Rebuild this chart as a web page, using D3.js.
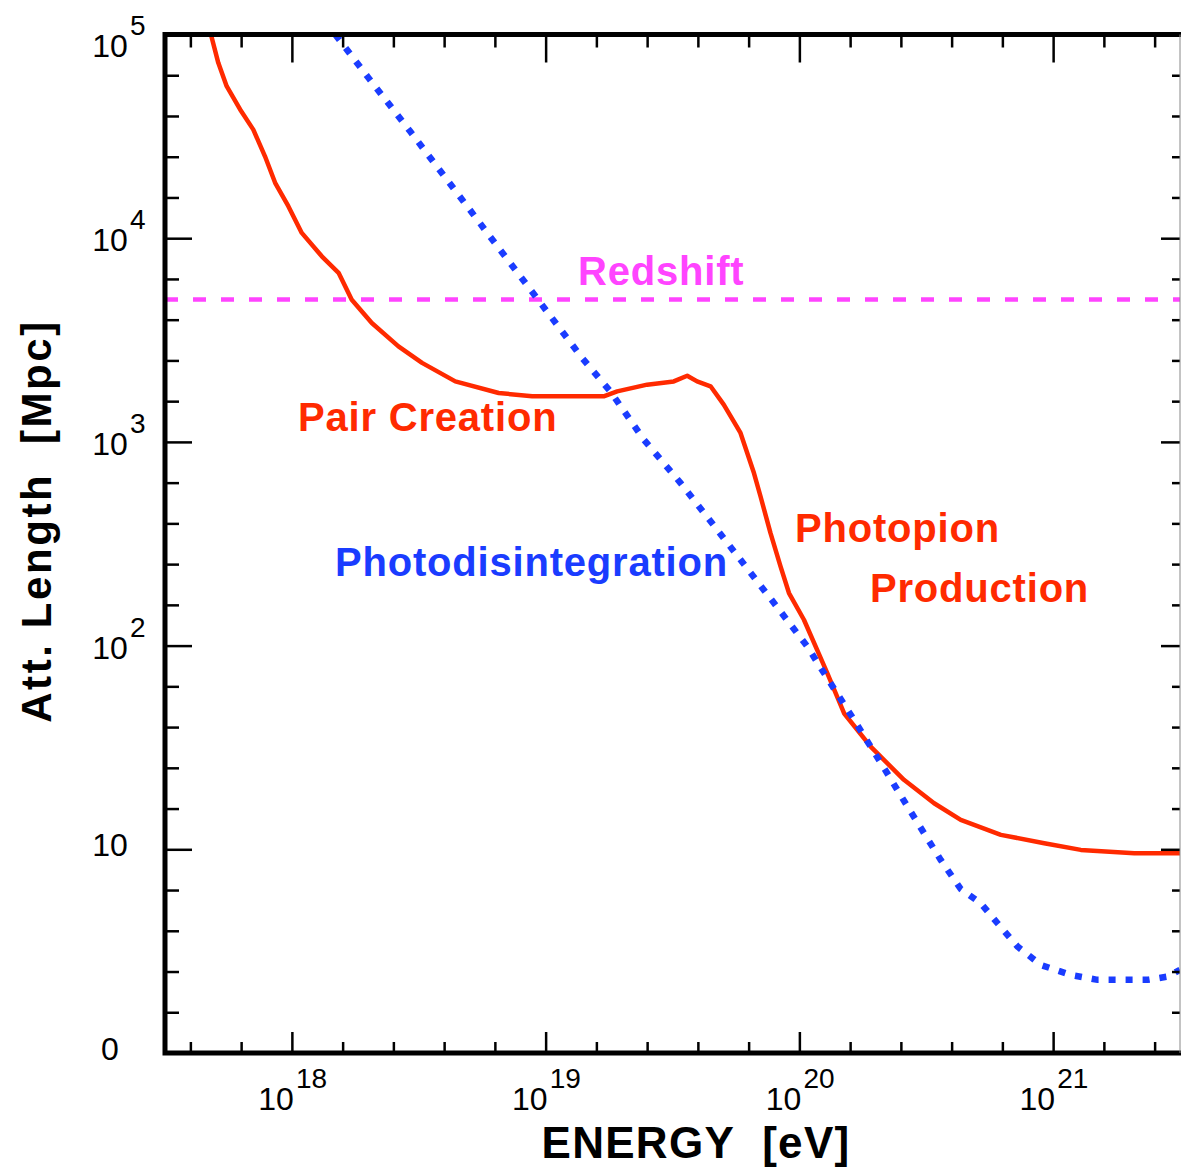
<!DOCTYPE html>
<html>
<head>
<meta charset="utf-8">
<script src="https://cdn.jsdelivr.net/npm/d3@7"></script>
<style>
  body { margin: 0; background: #fff; }
  svg { display: block; font-family: "Liberation Sans", Arial, sans-serif; }
</style>
</head>
<body>
<svg id="chart" width="1181" height="1168"></svg>
<script>
// energies as log10(E / eV), lengths as log10(L / Mpc)
var pairLogE = [17.681, 17.710, 17.743, 17.796, 17.848, 17.894, 17.934, 17.986, 18.039, 18.118,
                18.184, 18.236, 18.315, 18.420, 18.513, 18.644, 18.815, 18.947, 19.229, 19.282,
                19.400, 19.505, 19.558, 19.597, 19.650, 19.702, 19.768, 19.821, 19.847, 19.886,
                19.926, 19.959, 20.018, 20.110, 20.176, 20.281, 20.412, 20.531, 20.636, 20.794,
                20.965, 21.109, 21.320, 21.500]
var pairLogL = [5.000, 4.861, 4.746, 4.632, 4.533, 4.402, 4.272, 4.157, 4.026, 3.911,
                3.830, 3.698, 3.584, 3.469, 3.388, 3.297, 3.240, 3.224, 3.224, 3.248,
                3.281, 3.297, 3.325, 3.297, 3.273, 3.183, 3.044, 2.847, 2.732, 2.553,
                2.388, 2.258, 2.127, 1.865, 1.668, 1.504, 1.341, 1.226, 1.144, 1.071,
                1.030, 0.997, 0.981, 0.981]

var photoLogE = [18.171, 18.302, 18.466, 18.631, 18.795, 18.960, 19.144, 19.255, 19.387, 19.532,
                 19.676, 19.768, 19.900, 20.031, 20.084, 20.215, 20.334, 20.426, 20.557, 20.636,
                 20.715, 20.781, 20.860, 20.952, 21.070, 21.175, 21.373, 21.451, 21.500]
var photoLogL = [5.000, 4.787, 4.525, 4.255, 3.985, 3.715, 3.412, 3.248, 3.011, 2.798,
                 2.569, 2.421, 2.209, 1.996, 1.891, 1.636, 1.398, 1.210, 0.948, 0.805,
                 0.735, 0.637, 0.522, 0.432, 0.383, 0.359, 0.359, 0.375, 0.408]

var redshiftMpc = 5000

var xRangeExp = [17.5, 21.5]
var yRangeExp = [0, 5]
var xMajorExp = [18, 19, 20, 21]
var xLabelBase = ['10', '10', '10', '10']
var xLabelSup = ['18', '19', '20', '21']
var yMajorExp = [0, 1, 2, 3, 4, 5]
var yLabelBase = ['0', '10', '10', '10', '10', '10']
var yLabelSup = ['', '', '2', '3', '4', '5']

var RED = '#ff2a00', BLUE = '#1a3cff', MAGENTA = '#ff44ff'
var pow = function(e){ return Math.pow(10, e) }

var svg = d3.select('#chart')
var L = 165, R = 1180, T = 34.5, B = 1053

var x = d3.scaleLog().domain(xRangeExp.map(pow)).range([L, R])
var y = d3.scaleLog().domain(yRangeExp.map(pow)).range([B, T])

// 5 subdivisions per decade
var xMinor = d3.range(176, 215, 2).map(function(v){ return v / 10 }).filter(function(v){ return v % 1 !== 0 })
var yMinor = d3.range(2, 50, 2).map(function(v){ return v / 10 }).filter(function(v){ return v % 1 !== 0 })

svg.append('clipPath').attr('id', 'clip')
  .append('rect').attr('x', L).attr('y', T).attr('width', R - L).attr('height', B - T)

var plot = svg.append('g').attr('clip-path', 'url(#clip)')

var line = d3.line()
  .x(function(d){ return x(pow(d[0])) })
  .y(function(d){ return y(d[1]) })

// redshift level
plot.append('path')
  .attr('d', line(xRangeExp.map(function(e){ return [e, redshiftMpc] })))
  .attr('fill', 'none').attr('stroke', MAGENTA).attr('stroke-width', 4.5)
  .attr('stroke-dasharray', '13 15')

var logLine = d3.line()
  .x(function(d){ return x(pow(d[0])) })
  .y(function(d){ return y(pow(d[1])) })

plot.append('path')
  .attr('d', logLine(d3.zip(pairLogE, pairLogL)))
  .attr('fill', 'none').attr('stroke', RED).attr('stroke-width', 4.5)
  .attr('stroke-linejoin', 'round')

plot.append('path')
  .attr('d', logLine(d3.zip(photoLogE, photoLogL)))
  .attr('fill', 'none').attr('stroke', BLUE).attr('stroke-width', 6.5)
  .attr('stroke-dasharray', '7 10')

// ticks, all pointing inward
function ticks(axisFn, scale, exps, size, tx, ty){
  var g = svg.append('g').attr('transform', 'translate(' + tx + ',' + ty + ')')
  g.call(axisFn(scale).tickValues(exps.map(pow)).tickSize(size).tickSizeOuter(0).tickFormat(''))
  g.select('.domain').remove()
  g.selectAll('.tick line').attr('stroke', '#000').attr('stroke-width', 2.5)
}
ticks(d3.axisLeft, y, yMajorExp, -27, L, 0)
ticks(d3.axisLeft, y, yMinor, -14, L, 0)
ticks(d3.axisRight, y, yMajorExp, -19, R, 0)
ticks(d3.axisRight, y, yMinor, -8, R, 0)
ticks(d3.axisTop, x, xMajorExp, -28, 0, T)
ticks(d3.axisTop, x, xMinor, -13, 0, T)
ticks(d3.axisBottom, x, xMajorExp, -21, 0, B)
ticks(d3.axisBottom, x, xMinor, -11, 0, B)

// frame: heavy left/top/bottom, thin right
svg.append('path')
  .attr('d', 'M' + R + ',' + T + 'H' + L + 'V' + B + 'H' + R)
  .attr('fill', 'none').attr('stroke', '#000').attr('stroke-width', 5)
  .attr('stroke-linecap', 'square')
svg.append('line')
  .attr('x1', R).attr('x2', R).attr('y1', T).attr('y2', B)
  .attr('stroke', '#888').attr('stroke-width', 1)

// y tick labels
yMajorExp.forEach(function(e, i){
  var ty = y(pow(e))
  if (yLabelSup[i]) {
    ty = Math.max(ty, T + 9.5)
    svg.append('text').attr('x', 110).attr('y', ty + 13).attr('text-anchor', 'middle')
      .attr('font-size', 32).text(yLabelBase[i])
    svg.append('text').attr('x', 130).attr('y', ty - 9)
      .attr('font-size', 28).text(yLabelSup[i])
  } else {
    svg.append('text').attr('x', 110).attr('y', ty + 7).attr('text-anchor', 'middle')
      .attr('font-size', 32).text(yLabelBase[i])
  }
})

// x tick labels
xMajorExp.forEach(function(e, i){
  var tx = x(pow(e))
  svg.append('text').attr('x', tx + 2).attr('y', B + 57).attr('text-anchor', 'end')
    .attr('font-size', 32).text(xLabelBase[i])
  svg.append('text').attr('x', tx + 4).attr('y', B + 35)
    .attr('font-size', 28).text(xLabelSup[i])
})

// axis titles (double gaps kept with no-break spaces)
svg.append('text')
  .attr('x', 696).attr('y', 1158).attr('text-anchor', 'middle')
  .attr('font-size', 44).attr('font-weight', 'bold').attr('letter-spacing', 1.3)
  .text('ENERGY\u00a0\u00a0[eV]')

svg.append('text')
  .attr('transform', 'translate(51,521) rotate(-90)').attr('text-anchor', 'middle')
  .attr('font-size', 42).attr('font-weight', 'bold').attr('letter-spacing', 2.6)
  .text('Att.\u00a0Length\u00a0\u00a0[Mpc]')

// curve annotations
function note(txt, color, tx, ty){
  svg.append('text').attr('x', tx).attr('y', ty)
    .attr('font-size', 40).attr('font-weight', 'bold').attr('letter-spacing', 0.8)
    .attr('fill', color).text(txt)
}
note('Redshift', MAGENTA, 578, 285)
note('Pair Creation', RED, 298, 430.5)
note('Photodisintegration', BLUE, 335, 576)
note('Photopion', RED, 795, 542)
note('Production', RED, 870, 601.5)
</script>
</body>
</html>
